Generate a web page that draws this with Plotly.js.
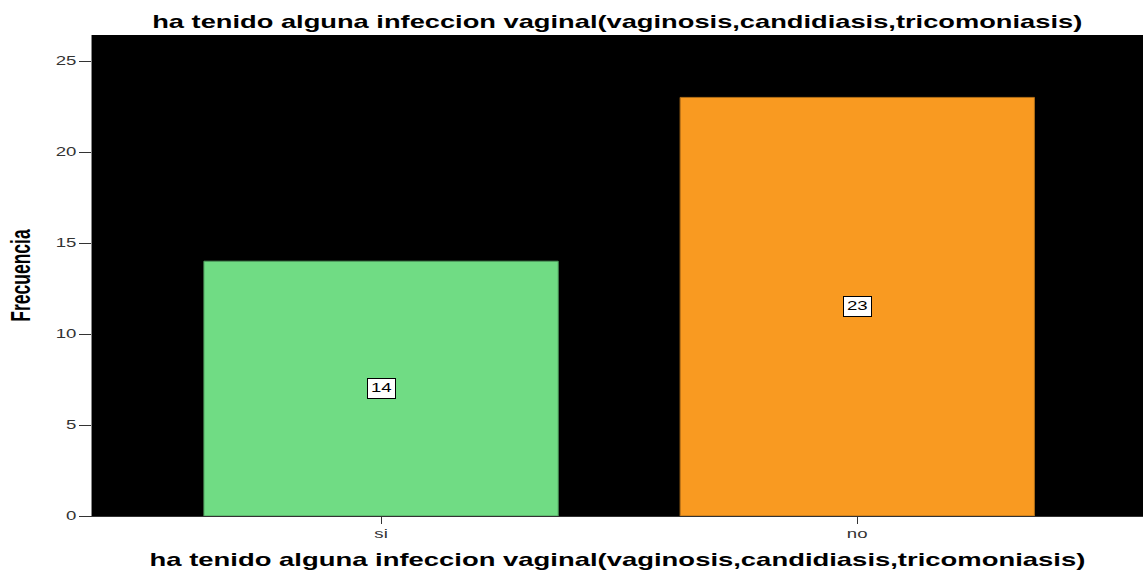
<!DOCTYPE html>
<html>
<head>
<meta charset="utf-8">
<script src="https://cdn.plot.ly/plotly-3.0.1.min.js"></script>
<style>html,body{margin:0;padding:0;background:#fff;}#chart{width:1143px;height:571px;}</style>
</head>
<body>
<div id="chart"></div>
<script>
const categories = ["si", "no"];
const frequencies = [14, 23];
const barColors = ["#70DC84", "#F99A21"];
const barLineColors = ["#4E9A5C", "#B06D17"];
const yTicks = [0, 5, 10, 15, 20, 25];
const titleText = "ha tenido alguna infeccion vaginal(vaginosis,candidiasis,tricomoniasis)";
const FONT = "Liberation Sans, Arial, Helvetica, sans-serif";
const STRETCH = 1.55;

const trace = {
  type: "bar",
  x: categories,
  y: frequencies,
  width: 0.744,
  marker: {color: barColors, line: {color: barLineColors, width: 1}},
  hoverinfo: "x+y"
};

const annotations = categories.map((c, i) => ({
  x: c, y: frequencies[i] / 2, xref: "x", yref: "y",
  text: String(frequencies[i]), showarrow: false,
  width: 25, height: 17, align: "center", valign: "middle",
  bgcolor: "#ffffff", bordercolor: "#000000", borderwidth: 1, borderpad: 1,
  font: {family: FONT, size: 12, color: "#000"}
}));

const layout = {
  width: 1143, height: 571,
  margin: {l: 92, r: 0, t: 35, b: 55},
  paper_bgcolor: "#ffffff",
  plot_bgcolor: "#000000",
  showlegend: false,
  title: {text: "<b>" + titleText + "</b>", x: 0.54, xanchor: "center", y: 0.961, yanchor: "middle",
          font: {family: FONT, size: 17.6, color: "#000"}},
  xaxis: {
    type: "category",
    range: [-0.607, 1.6],
    showgrid: false, zeroline: false,
    showline: true, linecolor: "#333", linewidth: 1,
    ticks: "outside", ticklen: 7, tickcolor: "#333",
    tickfont: {family: FONT, size: 12, color: "#333"},
    title: {text: "<b>" + titleText + "</b>", standoff: 13,
            font: {family: FONT, size: 17.7, color: "#000"}}
  },
  yaxis: {
    range: [0, 26.43],
    tickvals: yTicks,
    ticktext: yTicks.map(String),
    showgrid: false, zeroline: false,
    showline: true, linecolor: "#888", linewidth: 1,
    ticks: "outside", ticklen: 12, tickcolor: "#333",
    tickfont: {family: FONT, size: 12, color: "#333"},
    title: {text: "<b>Frecuencia</b>", standoff: 31,
            font: {family: FONT, size: 17.5, color: "#000"}}
  },
  annotations: annotations
};

function stretch(sel, s, mode) {
  document.querySelectorAll(sel).forEach(el => {
    const bb = el.getBBox();
    const t = el.getAttribute("transform") || "";
    const ax = mode === "end" ? bb.x + bb.width : bb.x + bb.width / 2;
    const ay = bb.y + bb.height / 2;
    const sc = mode === "vert" ? "scale(1," + s + ")" : "scale(" + s + ",1)";
    el.setAttribute("transform", t + " translate(" + ax + "," + ay + ") " + sc + " translate(" + (-ax) + "," + (-ay) + ")");
  });
}

Plotly.newPlot("chart", [trace], layout, {displayModeBar: false, staticPlot: true}).then(() => {
  stretch(".gtitle", STRETCH, "center");
  stretch(".g-xtitle text", STRETCH, "center");
  stretch(".g-ytitle text", STRETCH, "vert");
  stretch(".xtick text", STRETCH, "center");
  stretch(".ytick text", STRETCH, "end");
  stretch(".annotation-text", STRETCH, "center");
});
</script>
</body>
</html>
